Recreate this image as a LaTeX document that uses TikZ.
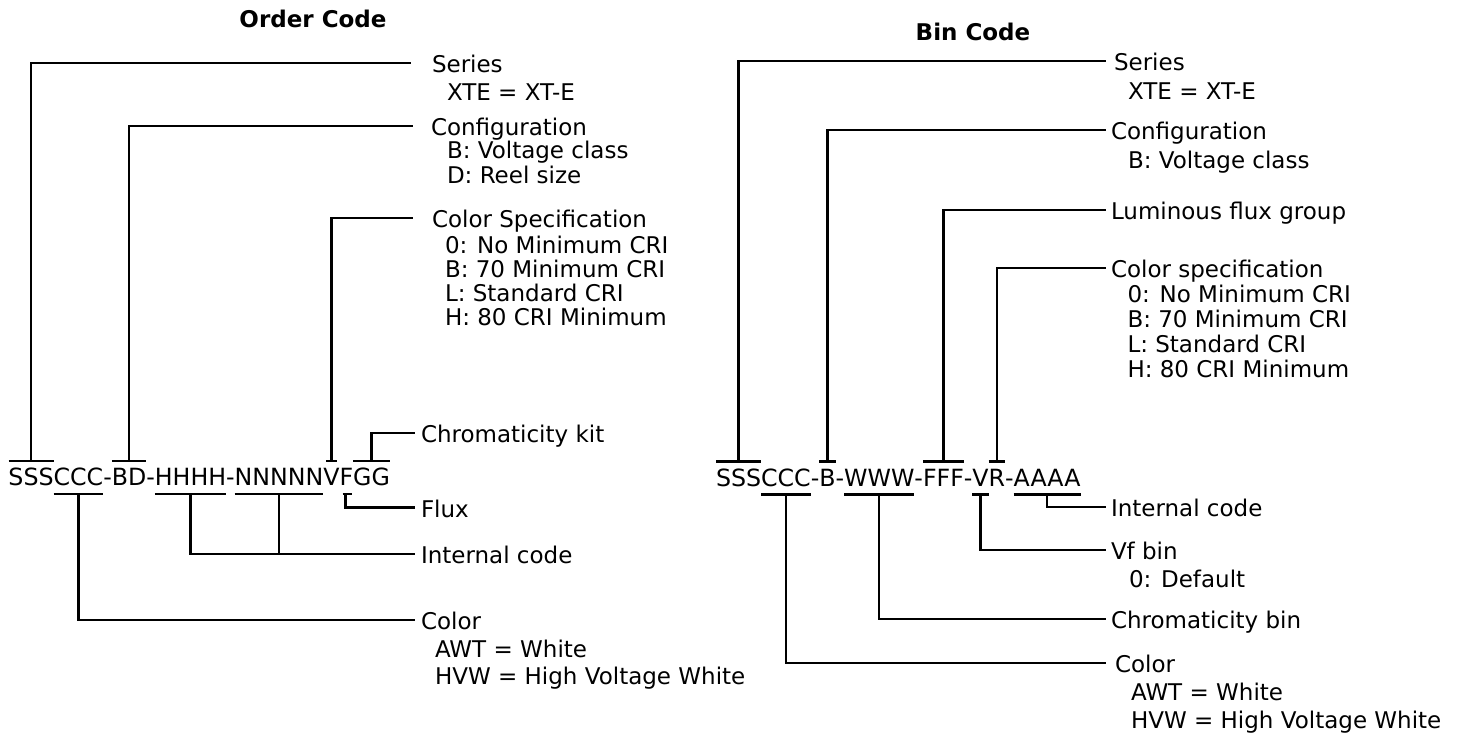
\documentclass[tikz,border=0pt]{standalone}
\usepackage{fontspec}
\setmainfont{DejaVu Sans}
\usetikzlibrary{calc}
\begin{document}
\begin{tikzpicture}[x=1pt,y=-1pt,
  conn/.style={line width=2.2pt},
  code/.style={inner sep=0pt, outer sep=0pt, anchor=base west, font=\fontsize{23.7}{28}\selectfont},
  head/.style={inner sep=0pt, outer ysep=0pt, anchor=west, text height=19pt, text depth=0pt, font=\fontsize{23}{28}\selectfont},
  sub/.style={inner sep=0pt, outer sep=0pt, anchor=base west, font=\fontsize{23}{28}\selectfont},
  title/.style={inner sep=0pt, anchor=base, font=\bfseries\fontsize{23}{28}\selectfont}]
\useasboundingbox (0,0) rectangle (1468,732);

% titles
\node[title] (tOrder) at (313,27) {Order Code};
\node[title] (tBin) at (973,40) {Bin Code};

% ---------- left code string ----------
\node[code] (lS) at (8.5,485.5) {SSS};
\node[code] (lC) at (lS.base east) {CCC};
\node[code] (lh1) at (lC.base east) {-};
\node[code] (lBD) at (lh1.base east) {BD};
\node[code] (lh2) at (lBD.base east) {-};
\node[code] (lH) at (lh2.base east) {HHHH};
\node[code] (lh3) at (lH.base east) {-};
\node[code] (lN) at (lh3.base east) {NNNNN};
\node[code] (lV) at (lN.base east) {V};
\node[code] (lF) at (lV.base east) {F};
\node[code] (lG) at (lF.base east) {GG};

% left labels
\node[head, outer xsep=21pt] (lSeries) at (411,63) {Series};
\node[sub] (lSeries1) at (447,100) {XTE = XT-E};
\node[head, outer xsep=18pt] (lConf) at (413,126) {Configuration};
\node[sub] (lConf1) at (447,158.5) {B: Voltage class};
\node[sub] (lConf2) at (447,183.5) {D: Reel size};
\node[head, outer xsep=19pt] (lCS) at (413,218) {Color Specification};
\node[sub] (lCS1) at (445,253) {0: No Minimum CRI};
\node[sub] (lCS2) at (445,277) {B: 70 Minimum CRI};
\node[sub] (lCS3) at (445,301) {L: Standard CRI};
\node[sub] (lCS4) at (445,325) {H: 80 CRI Minimum};
\node[head, outer xsep=6pt] (lChrom) at (415,433) {Chromaticity kit};
\node[head, outer xsep=6pt] (lFlux) at (415,507.5) {Flux};
\node[head, outer xsep=6pt] (lInt) at (415,554) {Internal code};
\node[head, outer xsep=6pt] (lColor) at (415,620) {Color};
\node[sub] (lColor1) at (435,657) {AWT = White};
\node[sub] (lColor2) at (435,684) {HVW = High Voltage White};

% left bars
\foreach \s in {lS,lBD,lG}
  \draw[conn] ([yshift=24.5pt]\s.base west) -- ([yshift=24.5pt]\s.base east);
\draw[conn] ([yshift=24.5pt,xshift=3pt]lV.base west) -- ([yshift=24.5pt,xshift=-3pt]lV.base east);
\foreach \s in {lC,lH,lN}
  \draw[conn] ([yshift=-8.5pt]\s.base west) -- ([yshift=-8.5pt]\s.base east);
\draw[conn] ([yshift=-8.5pt,xshift=3pt]lF.base west) -- ([yshift=-8.5pt,xshift=-1pt]lF.base east);

% left connectors
\draw[conn] ([yshift=24.5pt]lS.base) |- (lSeries.west);
\draw[conn] ([yshift=24.5pt]lBD.base) |- (lConf.west);
\draw[conn] ([yshift=24.5pt]lV.base) |- (lCS.west);
\draw[conn] ([yshift=24.5pt]lG.base) |- (lChrom.west);
\draw[conn] ([yshift=-8.5pt,xshift=-1pt]lF.base) |- (lFlux.west);
\draw[conn] ([yshift=-8.5pt]lH.base) |- (lInt.west);
\draw[conn] ([yshift=-8.5pt]lN.base) -- (lN.base |- lInt.west);
\draw[conn] ([yshift=-8.5pt]lC.base) |- (lColor.west);

% ---------- right code string ----------
\node[code] (rS) at (716,486) {SSS};
\node[code] (rC) at (rS.base east) {CCC};
\node[code] (rh1) at (rC.base east) {-};
\node[code] (rB) at (rh1.base east) {B};
\node[code] (rh2) at (rB.base east) {-};
\node[code] (rW) at (rh2.base east) {WWW};
\node[code] (rh3) at (rW.base east) {-};
\node[code] (rF) at (rh3.base east) {FFF};
\node[code] (rh4) at (rF.base east) {-};
\node[code] (rV) at (rh4.base east) {V};
\node[code] (rR) at (rV.base east) {R};
\node[code] (rh5) at (rR.base east) {-};
\node[code] (rA) at (rh5.base east) {AAAA};

% right labels
\node[head, outer xsep=8pt] (rSeries) at (1106,61) {Series};
\node[sub] (rSeries1) at (1128,99) {XTE = XT-E};
\node[head, outer xsep=5pt] (rConf) at (1106,130) {Configuration};
\node[sub] (rConf1) at (1128,168) {B: Voltage class};
\node[head, outer xsep=5pt] (rLum) at (1106,210) {Luminous flux group};
\node[head, outer xsep=5pt] (rCS) at (1106,268) {Color specification};
\node[sub] (rCS1) at (1127.5,302) {0: No Minimum CRI};
\node[sub] (rCS2) at (1127.5,327) {B: 70 Minimum CRI};
\node[sub] (rCS3) at (1127.5,352) {L: Standard CRI};
\node[sub] (rCS4) at (1127.5,377) {H: 80 CRI Minimum};
\node[head, outer xsep=5pt] (rInt) at (1106,507) {Internal code};
\node[head, outer xsep=5pt] (rVf) at (1106,550) {Vf bin};
\node[sub] (rVf1) at (1129,587) {0: Default};
\node[head, outer xsep=5pt] (rChrom) at (1106,619) {Chromaticity bin};
\node[head, outer xsep=9pt] (rColor) at (1106,663) {Color};
\node[sub] (rColor1) at (1131,700) {AWT = White};
\node[sub] (rColor2) at (1131,728) {HVW = High Voltage White};

% right bars
\foreach \s in {rS,rB,rF,rR}
  \draw[conn] ([yshift=24.5pt]\s.base west) -- ([yshift=24.5pt]\s.base east);
\foreach \s in {rC,rW,rV,rA}
  \draw[conn] ([yshift=-8.5pt]\s.base west) -- ([yshift=-8.5pt]\s.base east);

% right connectors
\draw[conn] ([yshift=24.5pt]rS.base) |- (rSeries.west);
\draw[conn] ([yshift=24.5pt]rB.base) |- (rConf.west);
\draw[conn] ([yshift=24.5pt]rF.base) |- (rLum.west);
\draw[conn] ([yshift=24.5pt]rR.base) |- (rCS.west);
\draw[conn] ([yshift=-8.5pt]rA.base) |- (rInt.west);
\draw[conn] ([yshift=-8.5pt]rV.base) |- (rVf.west);
\draw[conn] ([yshift=-8.5pt]rW.base) |- (rChrom.west);
\draw[conn] ([yshift=-8.5pt]rC.base) |- (rColor.west);
\end{tikzpicture}
\end{document}
